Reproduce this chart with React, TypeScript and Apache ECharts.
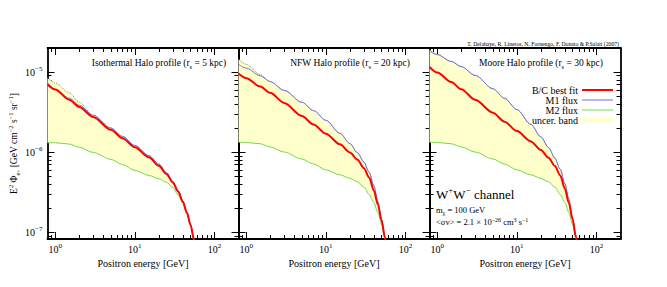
import React, { useEffect, useRef } from 'react';
import * as echarts from 'echarts';

// ---------- data ----------
const energy = [0.8, 1, 1.5, 2, 3, 5, 7, 10, 15, 20, 25, 30, 35, 40, 45, 50, 55, 60];

// Isothermal (r_s = 5 kpc)
const isoBC = [7.1e-6, 6.05e-6, 4.52e-6, 3.67e-6, 2.74e-6, 1.9e-6, 1.49e-6, 1.15e-6, 8.6e-7, 6.75e-7, 5.3e-7, 4.15e-7, 3.2e-7, 2.4e-7, 1.74e-7, 1.23e-7, 8.2e-8, 4.9e-8];
const isoM1 = [6.7e-6, 6.1e-6, 4.72e-6, 3.85e-6, 2.88e-6, 2.0e-6, 1.57e-6, 1.21e-6, 9.05e-7, 7.1e-7, 5.55e-7, 4.3e-7, 3.3e-7, 2.45e-7, 1.77e-7, 1.25e-7, 8.3e-8, 4.9e-8];
const isoM2 = [1.31e-6, 1.31e-6, 1.26e-6, 1.15e-6, 9.9e-7, 8.1e-7, 7.0e-7, 5.9e-7, 5.1e-7, 4.65e-7, 4.2e-7, 3.6e-7, 2.9e-7, 2.3e-7, 1.7e-7, 1.2e-7, 8.0e-8, 4.7e-8];
const isoTop = [8.4e-6, 7.3e-6, 5.5e-6, 4.2e-6, 2.9e-6, 2.0e-6, 1.57e-6, 1.21e-6, 9.05e-7, 7.1e-7, 5.55e-7, 4.3e-7, 3.3e-7, 2.45e-7, 1.77e-7, 1.25e-7, 8.3e-8, 4.9e-8];

// NFW (r_s = 20 kpc)
const nfwBC = [9.6e-6, 8.4e-6, 6.6e-6, 5.5e-6, 4.11e-6, 2.83e-6, 2.21e-6, 1.7e-6, 1.25e-6, 9.9e-7, 8.0e-7, 6.3e-7, 4.8e-7, 3.3e-7, 2.2e-7, 1.4e-7, 8.7e-8, 4.8e-8];
const nfwM1 = [1.25e-5, 1.12e-5, 9.0e-6, 7.6e-6, 5.9e-6, 4.2e-6, 3.3e-6, 2.5e-6, 1.72e-6, 1.28e-6, 9.8e-7, 7.5e-7, 5.6e-7, 3.8e-7, 2.4e-7, 1.45e-7, 8.8e-8, 4.8e-8];
const nfwM2 = [1.33e-6, 1.32e-6, 1.27e-6, 1.16e-6, 1.0e-6, 8.2e-7, 7.1e-7, 6.0e-7, 5.2e-7, 4.7e-7, 4.25e-7, 3.65e-7, 2.95e-7, 2.35e-7, 1.75e-7, 1.25e-7, 8.4e-8, 4.6e-8];
const nfwTop = [1.45e-5, 1.25e-5, 9.3e-6, 7.6e-6, 5.9e-6, 4.2e-6, 3.3e-6, 2.5e-6, 1.72e-6, 1.28e-6, 9.8e-7, 7.5e-7, 5.6e-7, 3.8e-7, 2.4e-7, 1.45e-7, 8.8e-8, 4.8e-8];

// Moore (r_s = 30 kpc)
const mooreBC = [1.16e-5, 9.9e-6, 7.5e-6, 6.1e-6, 4.5e-6, 3.1e-6, 2.4e-6, 1.83e-6, 1.36e-6, 1.06e-6, 8.5e-7, 6.7e-7, 5.1e-7, 3.5e-7, 2.3e-7, 1.45e-7, 8.8e-8, 4.8e-8];
const mooreM1 = [1.83e-5, 1.65e-5, 1.36e-5, 1.17e-5, 9.1e-6, 6.2e-6, 4.7e-6, 3.4e-6, 2.22e-6, 1.55e-6, 1.14e-6, 8.4e-7, 6.1e-7, 4.05e-7, 2.6e-7, 1.5e-7, 9e-8, 4.8e-8];
const mooreM2 = [1.33e-6, 1.32e-6, 1.27e-6, 1.16e-6, 1.0e-6, 8.2e-7, 7.1e-7, 6.0e-7, 5.2e-7, 4.7e-7, 4.25e-7, 3.65e-7, 2.95e-7, 2.35e-7, 1.75e-7, 1.25e-7, 8.4e-8, 4.6e-8];
const mooreTop = [1.9e-5, 1.68e-5, 1.36e-5, 1.17e-5, 9.1e-6, 6.2e-6, 4.7e-6, 3.4e-6, 2.22e-6, 1.55e-6, 1.14e-6, 8.4e-7, 6.1e-7, 4.05e-7, 2.6e-7, 1.5e-7, 9e-8, 4.8e-8];

const panelTitles = ['Isothermal Halo profile', 'NFW Halo profile', 'Moore Halo profile'];
const panelRs = ['5', '20', '30'];

const xMajor = [1, 10, 100];
const xMinor = [0.9, 2, 3, 4, 5, 6, 7, 8, 9, 20, 30, 40, 50, 60, 70, 80, 90];
const yMajor = [1e-7, 1e-6, 1e-5];
const yMinor = [9e-8, 2e-7, 3e-7, 4e-7, 5e-7, 6e-7, 7e-7, 8e-7, 9e-7, 2e-6, 3e-6, 4e-6, 5e-6, 6e-6, 7e-6, 8e-6, 9e-6];

const legendLabels = ['B/C best fit', 'M1 flux', 'M2 flux', 'uncer. band'];
const creditText = 'T. Delahaye, R. Lineros, N. Fornengo, F. Donato & P.Salati (2007)';

// ---------- styling / layout ----------
const X_MIN = 0.8;
const X_MAX = 200;
const Y_MIN = 8.2e-8;
const Y_MAX = 2e-5;
const FONT = '"Liberation Serif", "DejaVu Serif", serif';
const RED = '#ff0000';
const BLUE = '#6e6ef0';
const GREEN = '#70d850';
const BAND = '#ffffcc';
const BAND_EDGE = '#8e8e58';
const GRID_LEFTS = [47.5, 238.5, 429.5];
const GRID_W = 191;
const GRID_TOP = 48;
const GRID_H = 191;

const supRich = {
  b: { fontFamily: FONT, fontSize: 10, lineHeight: 14, color: '#000' },
  s: { fontFamily: FONT, fontSize: 7, lineHeight: 8, verticalAlign: 'top', color: '#000' },
};

function expLabel(v: number) {
  const e = Math.round(Math.log10(v));
  return `{b|10}{s|${e < 0 ? '\u2212' + -e : e}}`;
}

const axisLine = { show: true, onZero: false, lineStyle: { color: '#000', width: 1.8 } };
const tickLine = { color: '#000', width: 1 };

function buildOption() {
  const panels = [
    { bc: isoBC, m1: isoM1, m2: isoM2, top: isoTop },
    { bc: nfwBC, m1: nfwM1, m2: nfwM2, top: nfwTop },
    { bc: mooreBC, m1: mooreM1, m2: mooreM2, top: mooreTop },
  ];
  const grid: any[] = [];
  const xAxis: any[] = [];
  const yAxis: any[] = [];
  const series: any[] = [];
  const graphic: any[] = [];

  panels.forEach((p, i) => {
    grid.push({ left: GRID_LEFTS[i], top: GRID_TOP, width: GRID_W, height: GRID_H, containLabel: false, outerBoundsMode: 'none' });
    const xb = { type: 'log', logBase: 10, min: X_MIN, max: X_MAX, gridIndex: i, splitLine: { show: false }, minorSplitLine: { show: false } };
    const yb = { type: 'log', logBase: 10, min: Y_MIN, max: Y_MAX, gridIndex: i, splitLine: { show: false }, minorSplitLine: { show: false } };
    xAxis.push({
      ...xb, position: 'bottom', axisLine,
      axisTick: { show: true, inside: true, length: 7, customValues: xMajor, lineStyle: tickLine },
      axisLabel: { show: true, customValues: xMajor, formatter: expLabel, rich: supRich, margin: 3 },
      name: 'Positron energy [GeV]', nameLocation: 'middle', nameGap: 15,
      nameTextStyle: { fontFamily: FONT, fontSize: 10, color: '#000' },
    });
    xAxis.push({ ...xb, position: 'bottom', axisLine: { show: false }, axisTick: { show: true, inside: true, length: 4, customValues: xMinor, lineStyle: tickLine }, axisLabel: { show: false } });
    xAxis.push({ ...xb, position: 'top', axisLine, axisTick: { show: true, inside: true, length: 7, customValues: xMajor, lineStyle: tickLine }, axisLabel: { show: false } });
    xAxis.push({ ...xb, position: 'top', axisLine: { show: false }, axisTick: { show: true, inside: true, length: 4, customValues: xMinor, lineStyle: tickLine }, axisLabel: { show: false } });
    const yLeft: any = {
      ...yb, position: 'left', axisLine,
      axisTick: { show: true, inside: true, length: 7, customValues: yMajor, lineStyle: tickLine },
      axisLabel: { show: i === 0, customValues: yMajor, formatter: expLabel, rich: supRich, margin: 5 },
    };
    if (i === 0) {
      yLeft.name = '{n|E}{sp|2}{n| \u03a6}{sb|e}{sbs|+}{n| [GeV cm}{sp|\u22122}{n| s}{sp|\u22121}{n| sr}{sp|\u22121}{n|]}';
      yLeft.nameLocation = 'middle';
      yLeft.nameGap = 27;
      yLeft.nameTextStyle = {
        fontFamily: FONT, fontSize: 9.5, color: '#000',
        rich: {
          n: { fontFamily: FONT, fontSize: 9.5, lineHeight: 14, color: '#000' },
          sp: { fontFamily: FONT, fontSize: 6.5, lineHeight: 8, verticalAlign: 'top', color: '#000' },
          sb: { fontFamily: FONT, fontSize: 6.5, lineHeight: 8, verticalAlign: 'bottom', color: '#000' },
          sbs: { fontFamily: FONT, fontSize: 5, lineHeight: 10, verticalAlign: 'bottom', color: '#000' },
        },
      };
    }
    yAxis.push(yLeft);
    yAxis.push({ ...yb, position: 'left', axisLine: { show: false }, axisTick: { show: true, inside: true, length: 4, customValues: yMinor, lineStyle: tickLine }, axisLabel: { show: false } });
    yAxis.push({ ...yb, position: 'right', axisLine, axisTick: { show: true, inside: true, length: 7, customValues: yMajor, lineStyle: tickLine }, axisLabel: { show: false } });
    yAxis.push({ ...yb, position: 'right', axisLine: { show: false }, axisTick: { show: true, inside: true, length: 4, customValues: yMinor, lineStyle: tickLine }, axisLabel: { show: false } });

    const common = {
      type: 'line', xAxisIndex: i * 4, yAxisIndex: i * 4, symbol: 'none', showSymbol: false,
      smooth: 0.3, smoothMonotone: 'x', silent: true, clip: true, emphasis: { disabled: true },
    };
    series.push({
      type: 'custom', name: 'uncer. band', xAxisIndex: i * 4, yAxisIndex: i * 4, silent: true, clip: true, z: 1,
      data: [[energy[0], p.top[0]]],
      renderItem: (_params: any, api: any) => {
        const upper = energy.map((e, k) => api.coord([e, p.top[k]]));
        const lower = energy.map((e, k) => api.coord([e, p.m2[k]])).reverse();
        return { type: 'polygon', shape: { points: upper.concat(lower), smooth: 0 }, style: { fill: BAND, stroke: 'none' } };
      },
    });
    series.push({ ...common, name: 'band edge', data: energy.map((e, k) => [e, p.top[k]]), lineStyle: { color: BAND_EDGE, width: 1, type: 'dotted' }, z: 2 });
    series.push({ ...common, name: 'M2 flux', data: energy.map((e, k) => [e, p.m2[k]]), lineStyle: { color: GREEN, width: 1 }, z: 3 });
    series.push({ ...common, name: 'M1 flux', data: energy.map((e, k) => [e, p.m1[k]]), lineStyle: { color: BLUE, width: 1 }, z: 4 });
    series.push({ ...common, name: 'B/C best fit', data: energy.map((e, k) => [e, p.bc[k]]), lineStyle: { color: RED, width: 2 }, z: 5 });

    graphic.push({
      type: 'text', x: GRID_LEFTS[i] + GRID_W / 2 + 16, y: 63, z: 100,
      style: {
        text: `{n|${panelTitles[i]} (r}{sb|s}{n| = ${panelRs[i]} kpc)}`,
        rich: {
          n: { fontFamily: FONT, fontSize: 9.5, lineHeight: 14, fill: '#000' },
          sb: { fontFamily: FONT, fontSize: 6.5, lineHeight: 8, verticalAlign: 'bottom', fill: '#000' },
        },
        fill: '#000', align: 'center', verticalAlign: 'middle', textAlign: 'center', textVerticalAlign: 'middle',
      },
    });
  });

  graphic.push({
    type: 'text', x: 619, y: 44, z: 100,
    style: { text: creditText, fontFamily: FONT, fontSize: 5.7, fill: '#000', align: 'right', verticalAlign: 'middle', textAlign: 'right', textVerticalAlign: 'middle' },
  });

  const legColors = [RED, BLUE, GREEN];
  const legWidths = [2, 1, 1];
  legendLabels.forEach((lab, k) => {
    const y = 90 + 10 * k;
    graphic.push({
      type: 'text', x: 578, y, z: 100,
      style: { text: lab, fontFamily: FONT, fontSize: 10, fill: '#000', align: 'right', verticalAlign: 'middle', textAlign: 'right', textVerticalAlign: 'middle' },
    });
    if (k < 3) {
      graphic.push({ type: 'line', z: 100, shape: { x1: 582, y1: y, x2: 613, y2: y }, style: { stroke: legColors[k], lineWidth: legWidths[k] } });
    } else {
      graphic.push({ type: 'rect', z: 100, shape: { x: 582, y: y - 2.5, width: 31, height: 5 }, style: { fill: BAND } });
    }
  });

  graphic.push({
    type: 'text', x: 436, y: 194, z: 100,
    style: {
      text: '{n|W}{sp|+}{n|W}{sp|\u2212}{n| channel}',
      rich: {
        n: { fontFamily: FONT, fontSize: 13, lineHeight: 17, fill: '#000' },
        sp: { fontFamily: FONT, fontSize: 9, lineHeight: 10, verticalAlign: 'top', fill: '#000' },
      },
      fill: '#000', align: 'left', verticalAlign: 'middle', textAlign: 'left', textVerticalAlign: 'middle',
    },
  });
  graphic.push({
    type: 'text', x: 436, y: 210, z: 100,
    style: {
      text: '{n|m}{sb|\u03c7}{n| = 100 GeV}',
      rich: {
        n: { fontFamily: FONT, fontSize: 8.5, lineHeight: 11, fill: '#000' },
        sb: { fontFamily: FONT, fontSize: 6, lineHeight: 6, verticalAlign: 'bottom', fill: '#000' },
      },
      fill: '#000', align: 'left', verticalAlign: 'middle', textAlign: 'left', textVerticalAlign: 'middle',
    },
  });
  graphic.push({
    type: 'text', x: 436, y: 222, z: 100,
    style: {
      text: '{n|<\u03c3v> = 2.1 \u00d7 10}{sp|\u221226}{n| cm}{sp|3}{n| s}{sp|\u22121}',
      rich: {
        n: { fontFamily: FONT, fontSize: 8.5, lineHeight: 11, fill: '#000' },
        sp: { fontFamily: FONT, fontSize: 6, lineHeight: 6, verticalAlign: 'top', fill: '#000' },
      },
      fill: '#000', align: 'left', verticalAlign: 'middle', textAlign: 'left', textVerticalAlign: 'middle',
    },
  });

  return {
    animation: false,
    backgroundColor: '#fff',
    textStyle: { fontFamily: FONT },
    grid, xAxis, yAxis, series, graphic,
  };
}

export default function App() {
  const ref = useRef<HTMLDivElement>(null);
  useEffect(() => {
    if (!ref.current) return;
    const chart = echarts.init(ref.current, null, { renderer: 'svg' });
    chart.setOption(buildOption() as any);
    return () => chart.dispose();
  }, []);
  return <div ref={ref} style={{ position: 'absolute', left: 0, top: 0, width: 667, height: 287 }} />;
}
